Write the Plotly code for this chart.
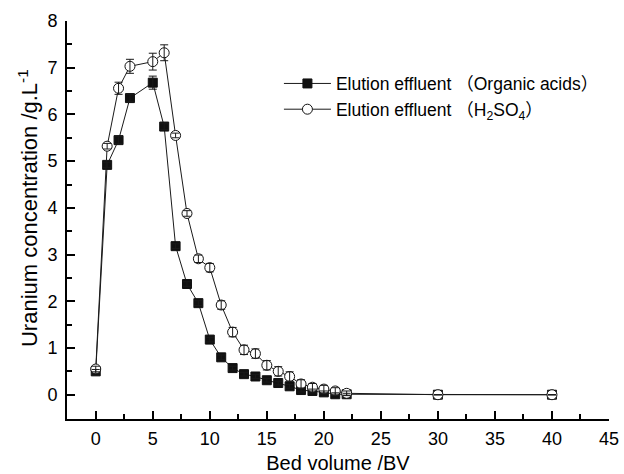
import plotly.graph_objects as go

# Bed volume (BV)
bv = [0, 1, 2, 3, 5, 6, 7, 8, 9, 10, 11, 12, 13, 14, 15, 16, 17, 18, 19, 20, 21, 22, 30, 40]

# Organic acids elution effluent (g/L)
organic = [0.50, 4.92, 5.45, 6.35, 6.68, 5.74, 3.18, 2.37, 1.96, 1.18, 0.80, 0.57, 0.44, 0.39,
           0.31, 0.25, 0.18, 0.10, 0.08, 0.05, 0.01, 0.01, 0.0, 0.0]
organic_err = [0.04, 0.06, 0.08, 0.08, 0.14, 0.06, 0.05, 0.05, 0.05, 0.05, 0.05, 0.04, 0.04, 0.04,
               0.04, 0.04, 0.04, 0.04, 0.04, 0.03, 0.03, 0.02, 0.0, 0.0]

# H2SO4 elution effluent (g/L)
h2so4 = [0.55, 5.32, 6.56, 7.03, 7.13, 7.32, 5.55, 3.88, 2.91, 2.72, 1.92, 1.34, 0.96, 0.88,
         0.63, 0.50, 0.39, 0.23, 0.16, 0.12, 0.08, 0.03, 0.0, 0.0]
h2so4_err = [0.06, 0.06, 0.13, 0.15, 0.18, 0.17, 0.05, 0.06, 0.08, 0.09, 0.09, 0.1, 0.1, 0.1,
             0.1, 0.1, 0.1, 0.09, 0.08, 0.08, 0.07, 0.05, 0.0, 0.0]

x_ticks = [0, 5, 10, 15, 20, 25, 30, 35, 40, 45]
x_minor = [2.5, 7.5, 12.5, 17.5, 22.5, 27.5, 32.5, 37.5, 42.5]
y_ticks = [0, 1, 2, 3, 4, 5, 6, 7, 8]
y_minor = [0.5, 1.5, 2.5, 3.5, 4.5, 5.5, 6.5, 7.5]

FONT = "Liberation Sans, Arial, Noto Sans CJK SC, sans-serif"
LINE = "#1a1a1a"

fig = go.Figure()

fig.add_trace(go.Scatter(
    x=bv, y=organic, mode="lines+markers",
    name="Elution effluent （Organic acids）",
    line=dict(color=LINE, width=1),
    marker=dict(symbol="square", size=9, color="#111111", line=dict(color="#111111", width=1)),
    legendgroup="a",
))
fig.add_trace(go.Scatter(
    x=bv, y=h2so4, mode="lines+markers",
    name="Elution effluent （H<sub>2</sub>SO<sub>4</sub>）",
    line=dict(color=LINE, width=1),
    marker=dict(symbol="circle", size=10, color="white", line=dict(color="#111111", width=1)),
    legendgroup="b",
))
# error bars drawn on top of markers
for yy, ee in ((organic, organic_err), (h2so4, h2so4_err)):
    fig.add_trace(go.Scatter(
        x=bv, y=yy, mode="markers", showlegend=False, hoverinfo="skip",
        marker=dict(size=1, color="rgba(0,0,0,0)"),
        error_y=dict(type="data", array=ee, visible=True, color=LINE, thickness=1, width=4),
    ))

axis_common = dict(
    showline=True, linecolor="black", linewidth=1.7, mirror=False,
    ticks="inside", ticklen=8, tickwidth=1.5, tickcolor="black",
    showgrid=False, zeroline=False, automargin=False,
    tickfont=dict(family=FONT, size=18, color="black"),
)

fig.update_xaxes(
    range=[-2.52, 45], tickvals=x_ticks,
    ticklabelstandoff=3,
    title=dict(text="Bed volume /BV", font=dict(family=FONT, size=20, color="black"), standoff=11),
    minor=dict(tickvals=x_minor, ticks="inside", ticklen=5, tickwidth=1.5, tickcolor="black"),
    **axis_common,
)
fig.update_yaxes(
    range=[-0.52, 8], tickvals=y_ticks,
    ticklabelstandoff=4,
    minor=dict(tickvals=y_minor, ticks="inside", ticklen=5, tickwidth=1.5, tickcolor="black"),
    **axis_common,
)

# y-axis title placed as rotated text (sits slightly above the plot centre, as in the original)
fig.add_annotation(
    text="Uranium concentration /g.L<sup>-1</sup>",
    xref="paper", yref="paper", x=-0.072, y=0.53,
    xanchor="center", yanchor="middle", textangle=-90, showarrow=False,
    font=dict(family=FONT, size=22, color="black"),
)

fig.update_layout(
    template="none",
    width=624, height=474,
    margin=dict(l=67, r=15, t=21, b=55, autoexpand=False),
    paper_bgcolor="white", plot_bgcolor="white",
    font=dict(family=FONT, size=17, color="black"),
    showlegend=True,
    legend=dict(
        x=0.391, y=0.888, xanchor="left", yanchor="top",
        bgcolor="rgba(0,0,0,0)", borderwidth=0,
        font=dict(family=FONT, size=17.5, color="black"),
        itemwidth=47, traceorder="grouped", tracegroupgap=0,
    ),
)

# remove the default page margin so the figure sits at the window's origin
fig.write_html(
    "out.html",
    config={"displayModeBar": False},
    post_script="document.body.style.margin='0';document.body.style.overflow='hidden';",
)
